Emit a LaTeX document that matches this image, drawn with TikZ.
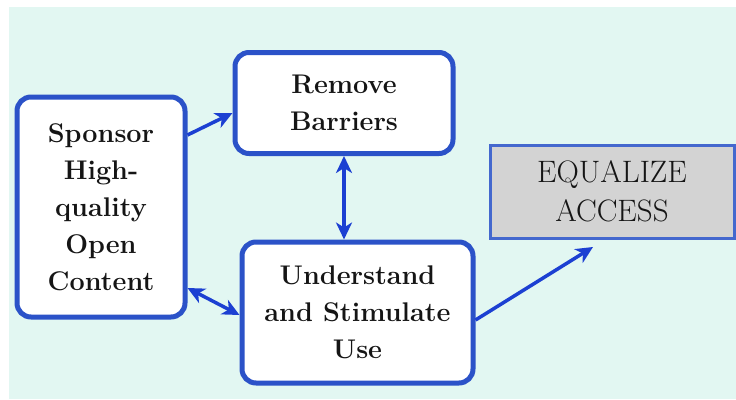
\documentclass[tikz,border=0pt]{standalone}
\usepackage{fontspec}
\usetikzlibrary{arrows.meta}
\definecolor{bgcyan}{HTML}{E2F7F2}
\definecolor{boxblue}{HTML}{2B52C8}
\definecolor{arrowblue}{HTML}{1C40D2}
\definecolor{goalgray}{HTML}{D3D3D3}
\definecolor{goaledge}{HTML}{4468CE}
\definecolor{ink}{HTML}{151515}
\tikzset{
  stagebox/.style={draw=boxblue, line width=5pt, fill=white, rounded corners=14pt,
    text=ink, align=center,
    font=\fontsize{27}{37}\selectfont\bfseries\addfontfeatures{FakeBold=1.2}},
  goalbox/.style={draw=goaledge, line width=3pt, fill=goalgray,
    text=ink, align=center,
    font=\fontsize{31}{39}\selectfont\addfontfeatures{FakeBold=0.8}},
  link/.style={draw=arrowblue, line width=3.5pt, -{Stealth[length=17pt,width=16pt,inset=5pt]}},
  twoway/.style={draw=arrowblue, line width=3.5pt,
    {Stealth[length=17pt,width=16pt,inset=5pt]}-{Stealth[length=17pt,width=16pt,inset=5pt]}}
}
\begin{document}
\begin{tikzpicture}[x=1pt,y=-1pt]
  \useasboundingbox (0,0) rectangle (736,399);
  \fill[white] (0,0) rectangle (736,399);
  \fill[bgcyan] (9,7) rectangle (736,399);

  % stages of the strategy
  \node[stagebox, minimum width=168pt, minimum height=220pt] (sponsor) at (101,207)
    {Sponsor\\High-\\quality\\Open\\Content};
  \node[stagebox, minimum width=218pt, minimum height=101pt] (remove) at (344,103)
    {Remove\\Barriers};
  \node[stagebox, minimum width=231pt, minimum height=141pt] (understand) at (357.5,312.5)
    {Understand\\and Stimulate\\Use};
  \node[goalbox, minimum width=244pt, minimum height=93pt] (goal) at (612,191.5)
    {EQUALIZE\\ACCESS};

  % connectors
  \coordinate (goaltip) at (593,247);
  \draw[link] (sponsor.east |- 0,135) -- (remove.west |- 0,113);
  \draw[twoway] (remove.south) -- (understand.north -| remove.south);
  \draw[twoway] (sponsor.east |- 0,288) -- (understand.west |- 0,315);
  \draw[link] (understand.east |- 0,320) -- (goaltip);
\end{tikzpicture}
\end{document}
